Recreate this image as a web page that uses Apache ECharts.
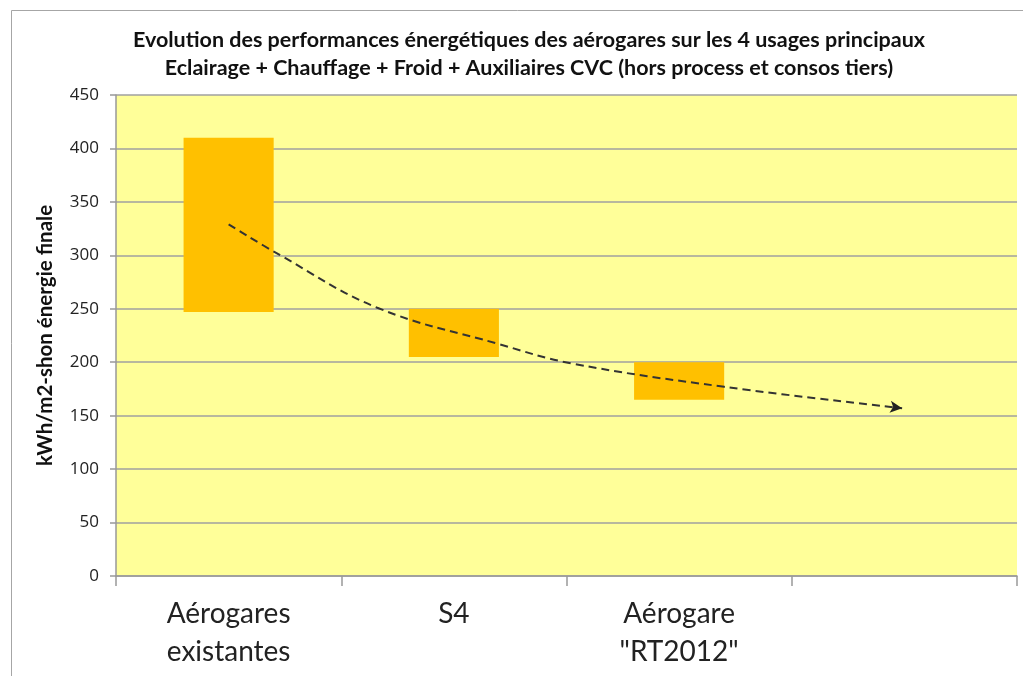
<!DOCTYPE html>
<html>
<head>
<meta charset="utf-8">
<script src="https://cdn.jsdelivr.net/npm/echarts@6/dist/echarts.min.js"></script>
<style>
  html, body { margin: 0; padding: 0; background: #fff; }
  #main { width: 1023px; height: 676px; }
</style>
</head>
<body>
<div id="main"></div>
<script>
// catégories (la 4e est vide dans l'original)
var categories = ['Aérogares\nexistantes', 'S4', 'Aérogare\n"RT2012"', ''];
// bas et haut de chaque fourchette (kWh/m2-shon)
var lowValues = [247, 205, 165, null];
var highValues = [410, 250, 200, null];
// courbe de tendance en pointillés (x en unités de catégorie, y en kWh)
var trendX = [0.5, 0.73, 1.16, 1.7, 2.02, 2.7, 3.49];
var trendY = [329, 300, 251, 217, 199, 177, 157];
var yTicks = [0, 50, 100, 150, 200, 250, 300, 350, 400, 450];

var myChart = echarts.init(document.getElementById('main'));

var rangeValues = [];
for (var i = 0; i < lowValues.length; i++) {
    rangeValues.push(lowValues[i] == null ? null : highValues[i] - lowValues[i]);
}
var trendData = [];
for (var i = 0; i < trendX.length; i++) {
    var item = { value: [trendX[i], trendY[i]], symbol: 'none' };
    if (i === trendX.length - 1) {
        item.symbol = 'arrow';
        item.symbolSize = [9, 12];
        item.symbolRotate = -97;
    }
    trendData.push(item);
}

myChart.setOption({
    animation: false,
    textStyle: { fontFamily: 'Lato, "Open Sans", sans-serif' },
    title: {
        text: 'Evolution des performances énergétiques des aérogares sur les 4 usages principaux\nEclairage + Chauffage + Froid + Auxiliaires CVC (hors process et consos tiers)',
        left: 524,
        textAlign: 'center',
        top: 21,
        textStyle: {
            fontSize: 21.5,
            fontWeight: 'bold',
            color: '#111',
            lineHeight: 28,
            fontFamily: 'Lato, sans-serif'
        }
    },
    graphic: [{
        type: 'rect',
        shape: { x: 11.5, y: 10.5, width: 1030, height: 700 },
        style: { fill: 'none', stroke: '#a6a6a6', lineWidth: 1 },
        z: -10
    }],
    grid: {
        left: 116,
        right: 6,
        top: 95,
        bottom: 100,
        show: true,
        backgroundColor: '#ffff99',
        borderWidth: 0
    },
    xAxis: [{
        type: 'category',
        data: categories,
        boundaryGap: true,
        axisLine: { lineStyle: { color: '#999', width: 1.5 } },
        axisTick: { show: true, length: 10, lineStyle: { color: '#999', width: 1.5 } },
        axisLabel: {
            fontSize: 28,
            color: '#222',
            lineHeight: 38,
            margin: 19
        }
    }, {
        type: 'value',
        min: 0,
        max: 4,
        show: false
    }],
    yAxis: {
        type: 'value',
        min: 0,
        max: 450,
        interval: 50,
        name: 'kWh/m2-shon énergie finale',
        nameLocation: 'middle',
        nameGap: 60,
        nameTextStyle: { fontSize: 20.5, fontWeight: 'bold', color: '#111' },
        axisLine: { show: true, lineStyle: { color: '#999', width: 1.5 } },
        axisTick: { show: true, length: 6, lineStyle: { color: '#999', width: 1.5 } },
        axisLabel: {
            fontSize: 17,
            color: '#222',
            margin: 17,
            fontFamily: '"Open Sans", sans-serif',
            formatter: function (v) { return yTicks.indexOf(v) >= 0 ? String(v) : ''; }
        },
        splitLine: { show: true, lineStyle: { color: '#a0a0a0', width: 1.5 } }
    },
    series: [
        {
            name: 'base',
            type: 'bar',
            stack: 'range',
            data: lowValues,
            barWidth: '40%',
            itemStyle: { color: 'transparent' },
            silent: true
        },
        {
            name: 'fourchette',
            type: 'bar',
            stack: 'range',
            data: rangeValues,
            barWidth: '40%',
            itemStyle: { color: '#ffc000' }
        },
        {
            name: 'tendance',
            type: 'line',
            xAxisIndex: 1,
            smooth: 0.4,
            data: trendData,
            showSymbol: true,
            itemStyle: { color: '#222' },
            lineStyle: { color: '#333', width: 2, type: [8, 5] },
            z: 5
        }
    ]
});
</script>
</body>
</html>
